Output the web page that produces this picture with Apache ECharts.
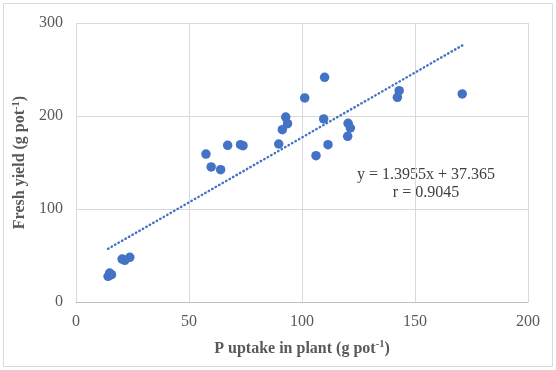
<!DOCTYPE html>
<html><head><meta charset="utf-8">
<script src="https://cdn.jsdelivr.net/npm/echarts@6/dist/echarts.min.js"></script>
<style>html,body{margin:0;padding:0;background:#fff}#c{width:556px;height:370px}</style>
</head><body><div id="c"></div>
<script>
var pUptake = [14.2,14.9,15.7,20.4,21.6,23.8,57.5,59.8,64.0,67.1,72.8,73.9,89.7,91.3,92.8,93.6,101.2,106.2,109.6,110.0,111.5,120.2,120.4,121.4,142.2,143.0,170.9];
var freshYield = [27.6,31.2,29.4,46.2,44.8,48.0,159.1,145.2,142.3,168.5,169.2,168.1,169.9,185.3,198.9,191.8,219.4,157.3,196.8,241.6,169.2,178.1,192.1,187.1,220.1,227.2,223.7];
var trendX = [14.2, 171.0];
var trendY = [57.2, 276.0];
var xTicks = [0,50,100,150,200];
var yTicks = [0,100,200,300];
var eqLines = ['y = 1.3955x + 37.365', 'r = 0.9045'];

var pts = pUptake.map(function(x,i){return [x, freshYield[i]];});
var trend = trendX.map(function(x,i){return [x, trendY[i]];});
var chart = echarts.init(document.getElementById('c'));
var font = '"Liberation Serif", "Times New Roman", serif';
chart.setOption({
  animation:false,
  backgroundColor:'#fff',
  textStyle:{fontFamily:font},
  graphic:[{type:'rect',shape:{x:3.5,y:3.5,width:549,height:363},style:{fill:'none',stroke:'#d9d9d9',lineWidth:1},silent:true},
    {type:'text',x:426,y:166,style:{text:eqLines.join('\n'),fill:'#404040',font:'16px '+font,align:'center',verticalAlign:'top',lineHeight:18}}],
  grid:{left:76,right:28,top:23,bottom:68},
  xAxis:{type:'value',min:xTicks[0],max:xTicks[xTicks.length-1],interval:50,
    axisLine:{show:true,lineStyle:{color:'#bfbfbf'}},axisTick:{show:false},
    splitLine:{lineStyle:{color:'#d9d9d9'}},
    axisLabel:{color:'#595959',fontSize:16,fontFamily:font,margin:12},
    name:'{a|P uptake in plant (g pot}{s|-1}{a|)}',nameLocation:'middle',nameGap:37,
    nameTextStyle:{rich:{a:{fontSize:16,fontWeight:'bold',color:'#595959',fontFamily:font},s:{fontSize:10.5,fontWeight:'bold',color:'#595959',fontFamily:font,padding:[0,0,8,0]}}}},
  yAxis:{type:'value',min:yTicks[0],max:yTicks[yTicks.length-1],interval:100,
    axisLine:{show:false},axisTick:{show:false},
    splitLine:{lineStyle:{color:'#d9d9d9'}},
    axisLabel:{color:'#595959',fontSize:16,fontFamily:font,margin:13},
    name:'{a|Fresh yield (g pot}{s|-1}{a|)}',nameLocation:'middle',nameGap:45,
    nameTextStyle:{rich:{a:{fontSize:16,fontWeight:'bold',color:'#595959',fontFamily:font},s:{fontSize:10.5,fontWeight:'bold',color:'#595959',fontFamily:font,padding:[0,0,8,0]}}}},
  series:[
    {type:'line',data:trend,symbol:'none',lineStyle:{color:'#4472C4',width:2.4,type:[0.5,3.5],cap:'round'},z:1},
    {type:'scatter',data:pts,symbolSize:9.5,itemStyle:{color:'#4472C4',opacity:1},z:2}
  ]
});
</script></body></html>
